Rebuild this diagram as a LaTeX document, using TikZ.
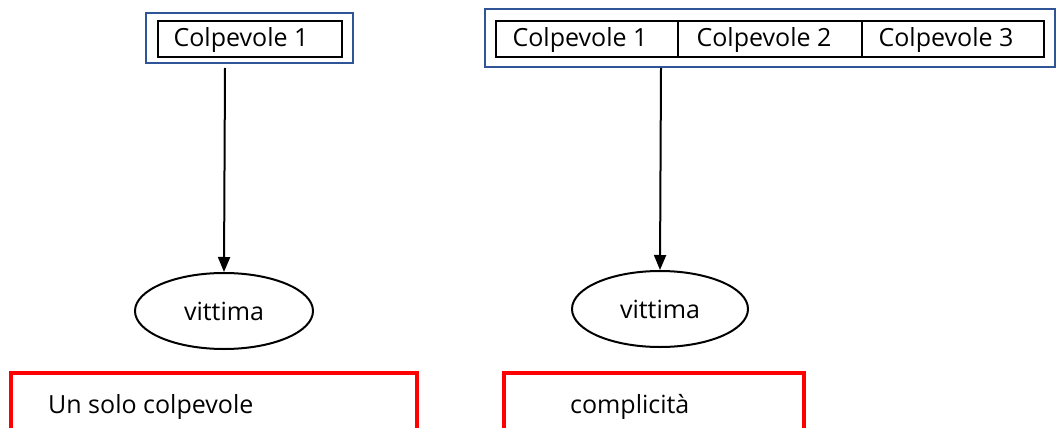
\documentclass[tikz,border=0pt]{standalone}
\usepackage{fontspec}
\setmainfont{Open Sans}
\usetikzlibrary{shapes.geometric,arrows.meta}
\definecolor{frameblue}{HTML}{2F5597}
\tikzset{
  x=1pt,y=-1pt,
  outerbox/.style={draw=frameblue,line width=2.4pt},
  innerbox/.style={draw=black,line width=2pt},
  lbl/.style={font=\fontsize{25}{28}\selectfont,inner sep=0pt},
  victim/.style={ellipse,draw=black,line width=2pt,minimum width=178pt,minimum height=76pt,font=\fontsize{25}{28}\selectfont},
  redbox/.style={draw=red,line width=3.5pt},
  conn/.style={draw=black,line width=2pt,-{Triangle[length=15pt,width=12pt]}}
}
\begin{document}
\begin{tikzpicture}
\useasboundingbox (0,0) rectangle (1057,428);
\begin{scope}
\clip (0,0) rectangle (1057,428);
% left group
\draw[outerbox] (146,13) rectangle (353,63);
\draw[innerbox] (158,21) rectangle (342,57);
\node[lbl] (c1) at (241,40) {Colpevole 1};
\node[victim] (v1) at (224,311) {vittima};
\draw[conn] (225,68) -- (v1.north);
% right group
\draw[outerbox] (485,9) rectangle (1055,67);
\draw[innerbox] (496,21) rectangle (1044,57);
\draw[innerbox] (678,21) -- (678,57);
\draw[innerbox] (862,21) -- (862,57);
\node[lbl] (r1) at (580,40) {Colpevole 1};
\node[lbl] (r2) at (764,40) {Colpevole 2};
\node[lbl] (r3) at (946,40) {Colpevole 3};
\node[victim,minimum width=176pt] (v2) at (660,309) {vittima};
\draw[conn] (661,68) -- (v2.north);
% red boxes
\draw[redbox] (11,440) -- (11,373) -- (417,373) -- (417,440);
\draw[redbox] (504,440) -- (504,373) -- (804,373) -- (804,440);
\node[lbl,anchor=west] (t1) at (48,407) {Un solo colpevole};
\node[lbl,anchor=west] (t2) at (570,407) {complicità};
\end{scope}
\end{tikzpicture}
\end{document}
